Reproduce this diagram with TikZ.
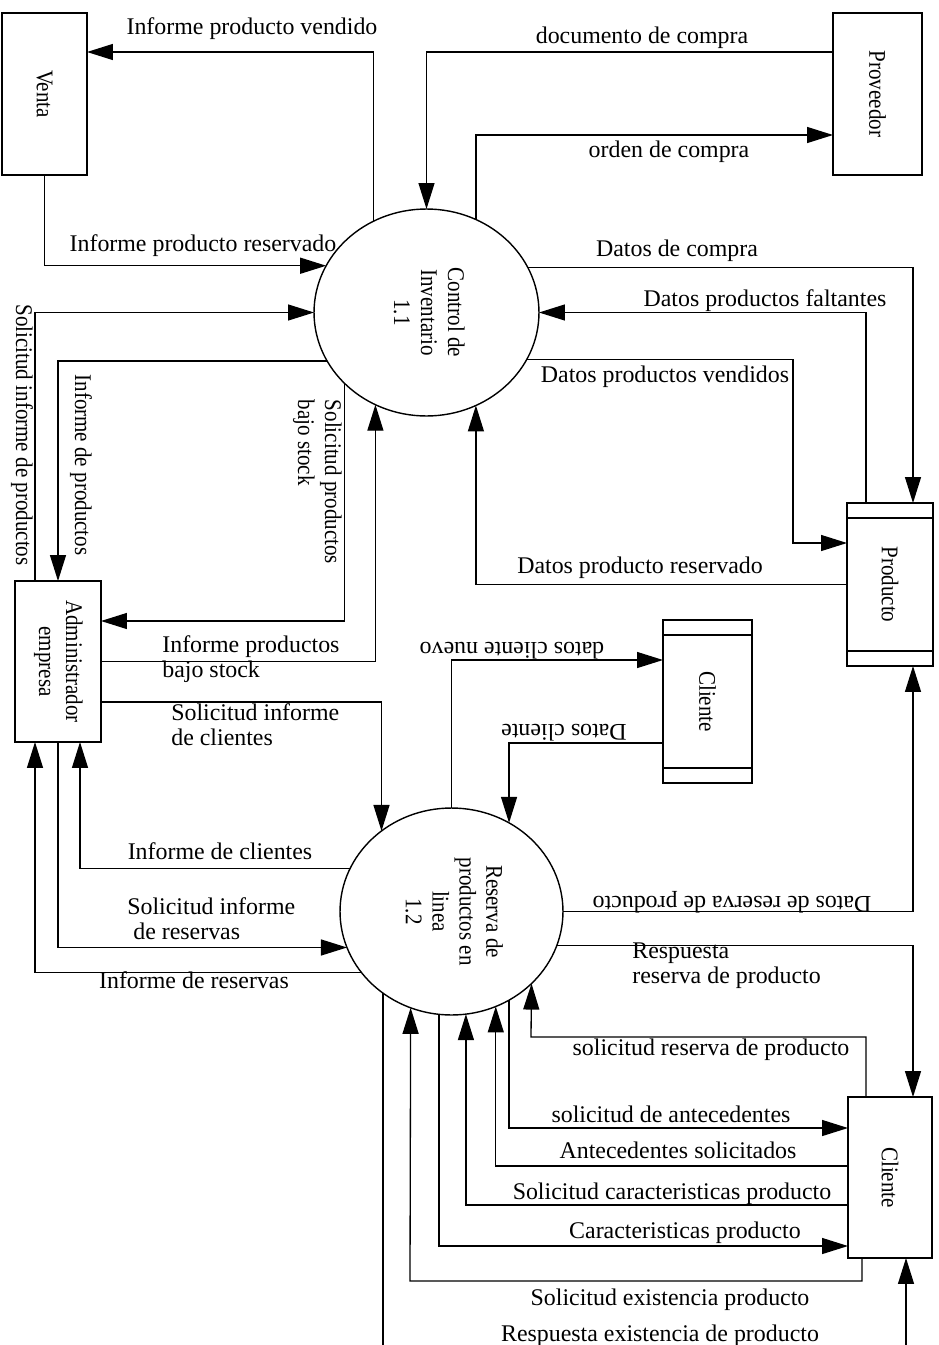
\documentclass[tikz,border=0pt]{standalone}
\usepackage{fontspec}
\setmainfont{Liberation Serif}
\usepackage{graphicx}
\usetikzlibrary{arrows.meta,shapes.geometric}

\newcommand{\vlabel}[1]{\rotatebox{-90}{\scalebox{0.88}[1]{#1}}}

\tikzset{
    flow/.style={line width=0.75pt, -{Triangle[length=0.52cm,width=0.32cm]}},
    entity/.style={draw, line width=0.8pt, rectangle, inner sep=0pt, outer sep=0pt, font=\fontsize{13.6}{15.3}\selectfont},
    store/.style={entity, path picture={
        \draw[line width=0.8pt] ([yshift=-0.3cm]path picture bounding box.north west) -- ([yshift=-0.3cm]path picture bounding box.north east)
                                ([yshift=0.3cm]path picture bounding box.south west) -- ([yshift=0.3cm]path picture bounding box.south east);}},
    proc/.style={draw, line width=0.8pt, ellipse, inner sep=0pt, outer sep=0pt, minimum height=4.14cm, font=\fontsize{13.6}{15.3}\selectfont},
    lbl/.style={inner sep=0pt, font=\fontsize{13.6}{13.8}\selectfont},
}

\begin{document}
\begin{tikzpicture}[x=0.02cm, y=-0.02cm]
    \useasboundingbox (0,0) rectangle (939,1345);
    \clip (0,0) rectangle (939,1345);

    % entidades, almacenes y procesos
    \node[entity, minimum width=1.7cm, minimum height=3.24cm] (venta) at (44.5,94) {\vlabel{Venta}};
    \node[entity, minimum width=1.78cm, minimum height=3.24cm] (prov) at (877.5,94) {\vlabel{Proveedor}};
    \node[entity, minimum width=1.72cm, minimum height=3.22cm] (admin) at (58,661.5) {\vlabel{\begin{tabular}{@{}c@{}}Administrador\\empresa\end{tabular}}};
    \node[store, minimum width=1.72cm, minimum height=3.26cm] (prod) at (890,584.5) {\vlabel{Producto}};
    \node[store, minimum width=1.78cm, minimum height=3.26cm] (clidb) at (707.5,701.5) {\vlabel{Cliente}};
    \node[entity, minimum width=1.68cm, minimum height=3.22cm] (cli) at (890,1177.5) {\vlabel{Cliente}};
    \node[proc, minimum width=4.5cm] (ctrl) at (426.5,312.5) {\vlabel{\begin{tabular}{@{}c@{}}Control de\\Inventario\\1.1\end{tabular}}};
    \node[proc, minimum width=4.46cm] (res) at (451.5,911.5) {\vlabel{\begin{tabular}{@{}c@{}}Reserva de\\productos en\\linea\\1.2\end{tabular}}};

    % flujos de control de inventario
    \draw[flow] (ctrl.120.4) |- (venta.east |- 0,52);
    \draw[flow] (prov.west |- 0,52) -| (ctrl.north);
    \draw[flow] (ctrl.62) |- (prov.west |- 0,135);
    \draw[flow] (ctrl.24.8) -| (prod.north -| 913,0);
    \draw[flow] (prod.north -| 866,0) |- (ctrl.east);
    \draw[flow] (ctrl.-25.4) -| (793,543) -- (prod.west |- 0,543);
    \draw[flow] (prod.west) -| (ctrl.-62);
    \draw[flow] (venta.south) |- (ctrl.155.2);
    \draw[flow] (admin.north -| 35,0) |- (ctrl.west);
    \draw[flow] (ctrl.-154.6) -| (admin.north);
    \draw[flow] (ctrl.-139.5) |- (admin.east |- 0,621);
    \draw[flow] (admin.east) -| (ctrl.-119.9);

    % flujos de reserva de productos
    \draw[flow] (res.north) |- (clidb.west |- 0,660);
    \draw[flow] (clidb.west |- 0,743) -| (res.57);
    \draw[flow] (admin.east |- 0,702) -| (res.131.3);
    \draw[flow] (res.157.3) -| (admin.south -| 80,0);
    \draw[flow] (admin.south) |- (res.-161.3);
    \draw[flow] (res.-146.2) -| (admin.south -| 35,0);
    \draw[flow] (res.east) -| (prod.south -| 913,0);
    \draw[flow] (res.-18.7) -| (cli.north -| 913,0);
    \draw[flow] (cli.north -| 866,0) |- (531,1037) -- (res.-42.4);
    \draw[flow] (res.-57) |- (cli.west |- 0,1128);
    \draw[flow] (cli.west |- 0,1166) -| (res.-65.5);
    \draw[flow] (cli.west |- 0,1205) -| (res.-82);
    \draw[flow] (res.-97.5) |- (cli.west |- 0,1246);
    \draw[flow] (cli.south -| 862,0) |- (410,1281) -- (res.-113.4);
    \draw[flow] (res.-130.7) |- (906,1360) -- (cli.south -| 906,0);

    % etiquetas
    \node[lbl, anchor=base] (l1) at (252,35) {Informe producto vendido};
    \node[lbl, anchor=base] (l2) at (642,44) {documento de compra};
    \node[lbl, anchor=base] (l3) at (669,157) {orden de compra};
    \node[lbl, anchor=base] (l4) at (677,256) {Datos de compra};
    \node[lbl, anchor=base] (l5) at (765,306) {Datos productos faltantes};
    \node[lbl, anchor=base] (l6) at (665,382) {Datos productos vendidos};
    \node[lbl, anchor=base] (l7) at (640,573) {Datos producto reservado};
    \node[lbl, anchor=base] (l8) at (203,251) {Informe producto reservado};
    \node[lbl] (l9) at (22,435) {\vlabel{Solicitud informe de productos}};
    \node[lbl] (l10) at (81,465) {\vlabel{Informe de productos}};
    \node[lbl, font=\fontsize{13.6}{15.3}\selectfont] (l11) at (317,482) {\vlabel{\begin{tabular}{@{}l@{}}Solicitud productos\\bajo stock\end{tabular}}};
    \node[lbl, anchor=base west, align=left] (l12) at (162,677) {Informe productos\\bajo stock};
    \node[lbl, rotate=180] (l13) at (512,651) {datos cliente nuevo};
    \node[lbl, rotate=180] (l14) at (564,733) {Datos cliente};
    \node[lbl, anchor=base west, align=left] (l15) at (171,745) {Solicitud informe\\de clientes};
    \node[lbl, anchor=base] (l16) at (220,859) {Informe de clientes};
    \node[lbl, anchor=base west, align=left] (l17) at (127,939) {Solicitud informe\\\hspace{0.25em}de reservas};
    \node[lbl, anchor=base] (l18) at (194,988) {Informe de reservas};
    \node[lbl, rotate=180] (l19) at (732,902) {Datos de reserva de producto};
    \node[lbl, anchor=base west, align=left] (l20) at (632,983) {Respuesta\\reserva de producto};
    \node[lbl, anchor=base] (l21) at (711,1055) {solicitud reserva de producto};
    \node[lbl, anchor=base] (l22) at (671,1122) {solicitud de antecedentes};
    \node[lbl, anchor=base] (l23) at (678,1158) {Antecedentes solicitados};
    \node[lbl, anchor=base] (l24) at (672,1199) {Solicitud caracteristicas producto};
    \node[lbl, anchor=base] (l25) at (685,1238) {Caracteristicas producto};
    \node[lbl, anchor=base] (l26) at (670,1305) {Solicitud existencia producto};
    \node[lbl, anchor=base] (l27) at (660,1341) {Respuesta existencia de producto};
\end{tikzpicture}
\end{document}
